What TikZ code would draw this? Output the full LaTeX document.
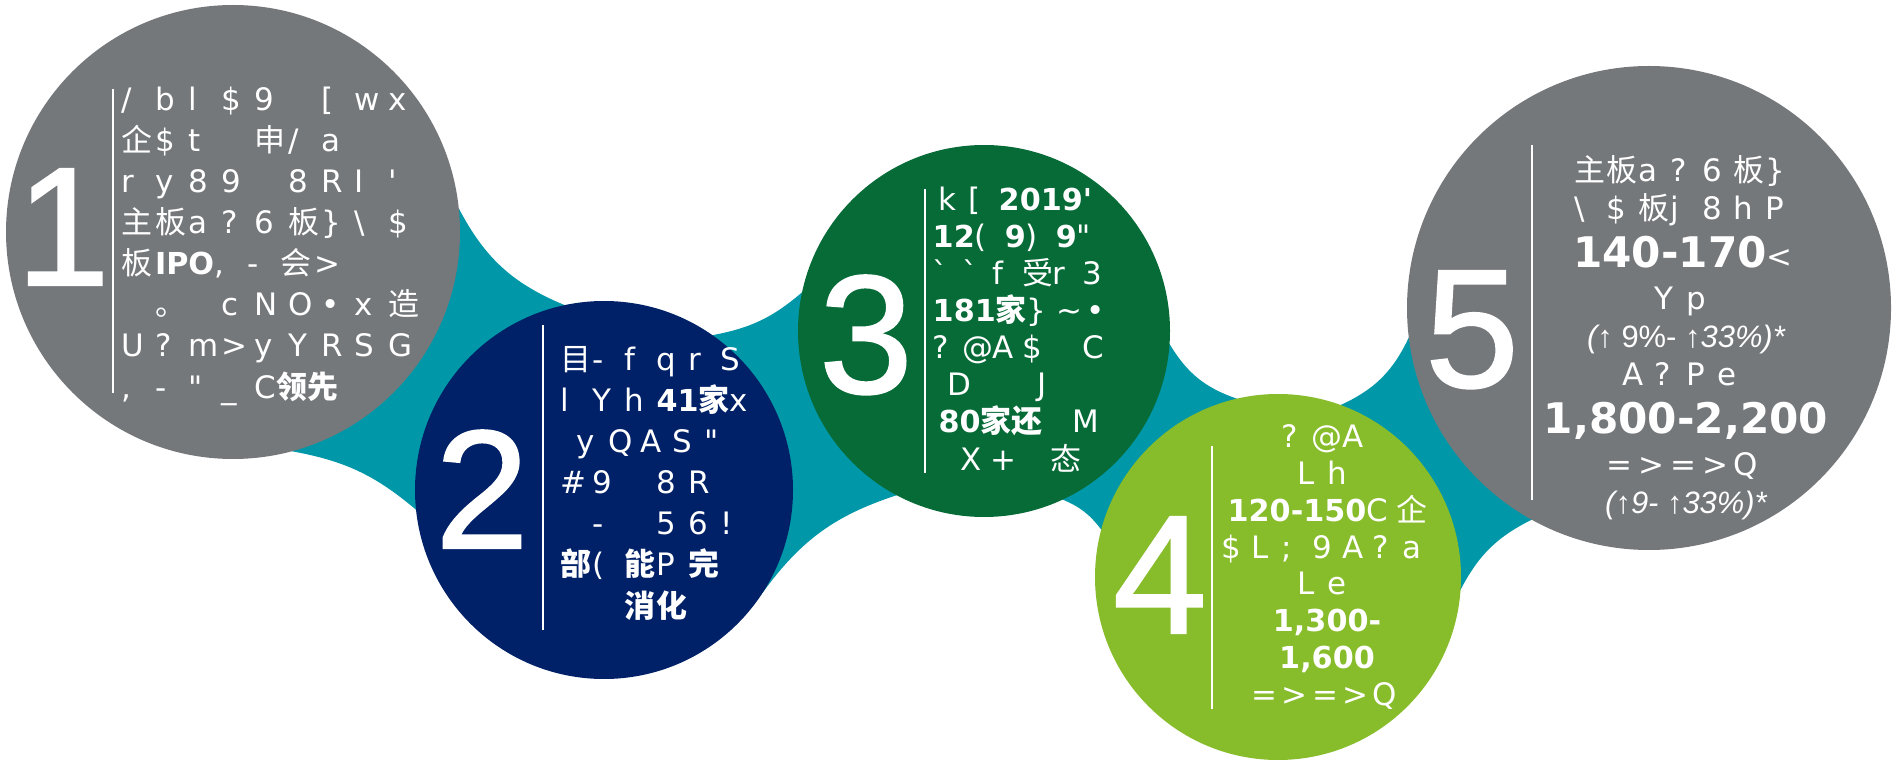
\documentclass[tikz,border=0pt]{standalone}
\usepackage{fontspec}
\setmainfont{DejaVu Sans}
\newfontfamily\zhfont{Noto Sans CJK SC}
\newfontfamily\numfont{Liberation Sans}[FakeBold=1.2]
\newfontfamily\lsfont{Liberation Sans}
\usetikzlibrary{backgrounds}
\definecolor{cGray}{RGB}{117,120,123}
\definecolor{cNavy}{RGB}{0,33,103}
\definecolor{cForest}{RGB}{7,107,56}
\definecolor{cLime}{RGB}{135,188,42}
\definecolor{cTeal}{RGB}{0,152,168}
\tikzset{
  disc/.style={circle, inner sep=0pt, outer sep=0pt, draw=none},
  ribbon/.style={fill=cTeal},
  sepline/.style={white, line width=0.6pt},
  bignum/.style={text=white, anchor=base, inner sep=0pt,
                 font=\numfont\fontsize{48}{48}\selectfont},
  body/.style={text=white, inner sep=0pt, align=left, anchor=base west},
  bodyc/.style={text=white, inner sep=0pt, align=center, anchor=base},
}
% fixed-pitch cells for the wide-set text
\newlength{\fwcell}
\newcommand{\fw}[1]{\fwnext#1\fwstop}
\def\fwstop{\fwstop}
\def\fwnext#1{\ifx#1\fwstop\else\makebox[\fwcell][l]{#1}\expandafter\fwnext\fi}
\newcommand{\zh}{\zhfont\fontsize{8.8}{11}\selectfont}
\newcommand{\bd}[1]{{\bfseries\fontsize{8.6}{11}\selectfont #1}}
\newcommand{\bdbig}[1]{{\bfseries\fontsize{12}{12}\selectfont #1}}
\newcommand{\ital}[1]{{\lsfont\itshape\fontsize{8.8}{11}\selectfont #1}}

\begin{document}
\begin{tikzpicture}[x=0.1mm, y=-0.1mm]
  \useasboundingbox (0,0) rectangle (1895,762);
  % stage discs
  \node[disc, fill=cGray,   minimum size=45.4mm] (s1) at (233,232) {};
  \node[disc, fill=cNavy,   minimum size=37.8mm] (s2) at (604,490) {};
  \node[disc, fill=cForest, minimum size=37.2mm] (s3) at (984,331) {};
  \node[disc, fill=cLime,   minimum size=36.6mm] (s4) at (1278,577) {};
  \node[disc, fill=cGray,   minimum size=48.4mm] (s5) at (1649,308) {};
  % teal ribbon behind the discs
  \begin{scope}[on background layer]
    \fill[ribbon] (s1.6) to[bend right=20] (s2.102) -- (s2.center) -- (s2.186)
      to[bend right=15] (s1.-75) -- (s1.center) -- cycle;
    \fill[ribbon] (s2.55) to[bend right=15] (s3.168) -- (s3.center) -- (s3.-118)
      to[bend right=18] (s2.-33) -- (s2.center) -- cycle;
    \fill[ribbon] (s3.-4) to[bend right=20] (s4.103) -- (s4.center) -- (s4.165)
      to[bend right=15] (s3.-65) -- (s3.center) -- cycle;
    \fill[ribbon] (s4.70) to[bend right=20] (s5.187) -- (s5.center) -- (s5.-119)
      to[bend right=18] (s4.-4) -- (s4.center) -- cycle;
  \end{scope}
  % stage numbers
  \node[bignum] (n1) at (63,285) {1};
  \node[bignum] (n2) at (482,548) {2};
  \node[bignum] (n3) at (866,393) {3};
  \node[bignum] (n4) at (1160,633) {4};
  \node[bignum] (n5) at (1472,387) {5};
  % separators
  \draw[sepline] (113,89) -- (113,393);
  \draw[sepline] (543,325) -- (543,630);
  \draw[sepline] (925,189) -- (925,473);
  \draw[sepline] (1212,446) -- (1212,709);
  \draw[sepline] (1532,145) -- (1532,500);
  % stage texts (placed by the baseline of their last line)
  \node[body, font={\fontsize{8.8}{11.67}\selectfont\lineskiplimit=-10pt\setlength{\fwcell}{9.48pt}}]
    (t1) at (121,398) {\fw{/bl\$9\ [wx}\\
      \fw{{\zh 企}\$t\ {\zh 申}/a}\\
      \fw{ry89\ 8RI\textquotesingle}\\
      \fw{{\zh 主}{\zh 板}a?6{\zh 板}\}\textbackslash\$}\\
      \fw{{\zh 板}}\bd{IPO}\fw{,-{\zh 会}>}\\
      \fw{\ {\zh 。}\ cNO•x{\zh 造}}\\
      \fw{U?m>yYRSG}\\
      \fw{,-\textquotedbl\_}C{\zh\bfseries 领先}};
  \node[body, font={\fontsize{8.8}{11.67}\selectfont\lineskiplimit=-10pt\setlength{\fwcell}{9.1pt}}]
    (t2) at (560,617) {\fw{{\zh 目}-fqrS}\\
      \fw{lYh}\bd{41}{\zh\bfseries 家}\fw{x}\\
      \hspace*{4.5pt}\fw{yQAS\textquotedbl}\\
      \fw{\#9\ 8R}\\
      \fw{\ -\ 56!}\\
      \fw{{\zh\bfseries 部}({\zh\bfseries 能}P{\zh\bfseries 完}}\\
      \fw{\ \ {\zh\bfseries 消}{\zh\bfseries 化}}};
  \node[body, font={\fontsize{8.8}{10.56}\selectfont\lineskiplimit=-10pt\setlength{\fwcell}{8.54pt}}]
    (t3) at (932,470) {\hspace*{1.7pt}\fw{k[}\bd{2019\textquotesingle}\\
      \bd{12}\fw{(}\bd{9}\fw{)}\bd{9}\fw{\textquotedbl}\\
      \fw{\textasciigrave\textasciigrave f{\zh 受}r3}\\
      \bd{181}{\zh\bfseries 家}\fw{\}\textasciitilde•}\\
      \fw{?@A\$\ C}\\
      \hspace*{4.3pt}\fw{D\ \ J}\\
      \hspace*{1.7pt}\bd{80}{\zh\bfseries 家还}\fw{\ M}\\
      \hspace*{8pt}\fw{X+\ {\zh 态}}};
  \node[bodyc, font={\fontsize{8.8}{10.45}\selectfont\lineskiplimit=-10pt\setlength{\fwcell}{8.54pt}}]
    (t4) at (1327,705) {\fw{?@A}\\
      \fw{Lh}\\
      \bd{120-150}\fw{C{\zh 企}}\\
      \fw{\$L;9A?a}\\
      \fw{Le}\\
      \bd{1,300-}\\
      \bd{1,600}\\
      \fw{=>=>Q}};
  \node[bodyc, font={\fontsize{8.8}{10.8}\selectfont\lineskiplimit=-10pt\setlength{\fwcell}{9.1pt}}]
    (t5) at (1686,513) {\fw{{\zh 主}{\zh 板}a?6{\zh 板}\}}\\
      \fw{\textbackslash\${\zh 板}j8hP}\\[2.85pt]
      \bdbig{140-170}\fw{<}\\[1.1pt]
      \fw{Yp}\\
      \ital{(}{\lsfont\fontsize{8.8}{11}\selectfont↑ 9\%- ↑}\ital{33\%)*}\\
      \fw{A?Pe}\\[2.85pt]
      \bdbig{1,800-2,200}\\[1.1pt]
      \fw{=>=>Q}\\
      \ital{(↑9- ↑33\%)*}};
\end{tikzpicture}
\end{document}
